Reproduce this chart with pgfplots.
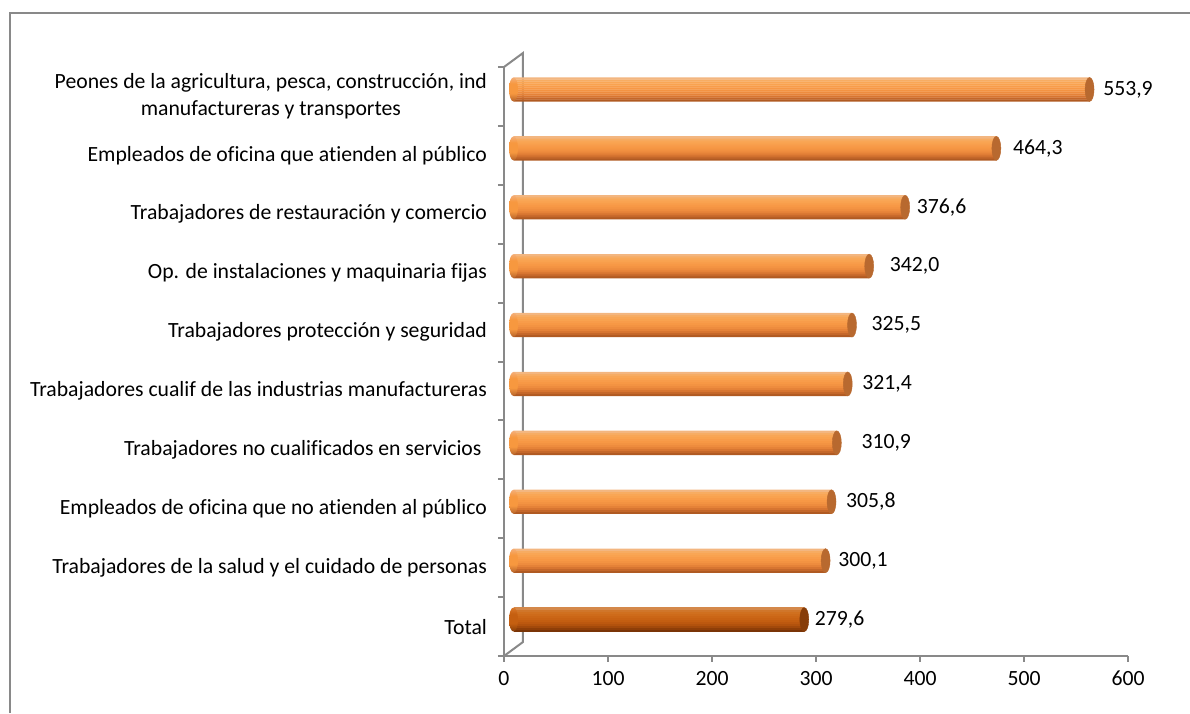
\documentclass[border=0pt]{standalone}
\usepackage{pgfplots}
\pgfplotsset{compat=1.18}
\usepackage{pgfplotstable}
\usepackage{fontspec}
\setmainfont{Carlito}[Ligatures={NoCommon}]

\definecolor{axgray}{HTML}{898989}
\definecolor{barTop}{HTML}{F4AE78}
\definecolor{barMid}{HTML}{F7983F}
\definecolor{barBot}{HTML}{B4622A}
\definecolor{capC}{HTML}{B8692F}
\definecolor{totTop}{HTML}{D9782A}
\definecolor{totMid}{HTML}{C55F10}
\definecolor{totBot}{HTML}{843D08}
\definecolor{totCap}{HTML}{873D09}

% stripes, 0 = bottom edge, 11 = top edge
\definecolor{orS0}{HTML}{B05A22}
\definecolor{orS1}{HTML}{C4672A}
\definecolor{orS2}{HTML}{D77531}
\definecolor{orS3}{HTML}{E58238}
\definecolor{orS4}{HTML}{EE8C3E}
\definecolor{orS5}{HTML}{F39342}
\definecolor{orS6}{HTML}{F79845}
\definecolor{orS7}{HTML}{F89C4A}
\definecolor{orS8}{HTML}{F9A24F}
\definecolor{orS9}{HTML}{F9A655}
\definecolor{orS10}{HTML}{F7AC62}
\definecolor{orS11}{HTML}{F3B680}
\definecolor{toS0}{HTML}{7A3406}
\definecolor{toS1}{HTML}{8E3E08}
\definecolor{toS2}{HTML}{A2490B}
\definecolor{toS3}{HTML}{B2520D}
\definecolor{toS4}{HTML}{BC580F}
\definecolor{toS5}{HTML}{C35E11}
\definecolor{toS6}{HTML}{C86213}
\definecolor{toS7}{HTML}{CB6616}
\definecolor{toS8}{HTML}{CE6B1A}
\definecolor{toS9}{HTML}{D0701F}
\definecolor{toS10}{HTML}{D0762A}
\definecolor{toS11}{HTML}{D4884A}

\pgfdeclareverticalshading{orshade}{100bp}{color(0bp)=(barBot); color(25bp)=(barBot); color(42bp)=(barMid); color(62bp)=(barMid); color(75bp)=(barTop); color(100bp)=(barTop)}
\pgfdeclareverticalshading{totshade}{100bp}{color(0bp)=(totBot); color(25bp)=(totBot); color(42bp)=(totMid); color(62bp)=(totMid); color(75bp)=(totTop); color(100bp)=(totTop)}

\pgfdeclareplotmark{lcapor}{\pgfpathellipse{\pgfpointorigin}{\pgfqpoint{2.25pt}{0pt}}{\pgfqpoint{0pt}{6pt}}\pgfshadepath{orshade}{0}\pgfusepath{discard}}
\pgfdeclareplotmark{lcaptot}{\pgfpathellipse{\pgfpointorigin}{\pgfqpoint{2.25pt}{0pt}}{\pgfqpoint{0pt}{6pt}}\pgfshadepath{totshade}{0}\pgfusepath{discard}}

\pgfplotstableread{
y v gap
1 300.1 8
2 305.8 10
3 310.9 20
4 321.4 10
5 325.5 15
6 342.0 16
7 376.6 7
8 464.3 12
9 553.9 9
}\occtab
\pgfplotstableread{
y v gap
0 279.6 6
}\totaltab

\newcommand{\lblfont}{\fontsize{10.85}{13.5}\selectfont}

\begin{document}
\begin{tikzpicture}
\path[use as bounding box] (0,0) rectangle (595pt,356.5pt);
\draw[axgray, line width=1pt] (5pt,0) -- (5pt,350pt) -- (600pt,350pt);

% front axis: frame, ticks, labels
\begin{axis}[
  at={(252pt,28.5pt)}, anchor=south west,
  x=0.52pt, y=29.45pt,
  xmin=0, xmax=600, ymin=-0.5, ymax=9.5,
  axis x line*=bottom, axis y line*=left,
  axis line style={axgray, line width=1pt, -},
  clip=false,
  xtick={0,100,...,600},
  tick align=outside,
  major tick length=3pt,
  xtick style={axgray, line width=1pt},
  ytick={0,...,9},
  ytick style={draw=none},
  extra y ticks={-0.5,0.5,1.5,2.5,3.5,4.5,5.5,6.5,7.5,8.5,9.5},
  extra y tick labels={},
  extra y tick style={ytick style={draw=axgray, line width=1pt}},
  yticklabels={Total,
    Trabajadores de la salud y el cuidado de personas,
    Empleados de oficina que no atienden al público,
    Trabajadores no cualificados en servicios\kern0.25em,
    Trabajadores cualif de las industrias manufactureras,
    Trabajadores protección y seguridad,
    Op. de instalaciones y maquinaria fijas,
    Trabajadores de restauración y comercio,
    Empleados de oficina que atienden al público,
    {Peones de la agricultura, pesca, construcción, ind\\manufactureras y transportes}},
  yticklabel style={font=\lblfont, align=center, anchor=east, xshift=-2pt},
  xticklabel style={font=\lblfont, yshift=-1pt},
  /pgf/number format/assume math mode=true,
]
\draw[axgray, line width=1pt] (axis cs:0,-0.5) -- ([shift={(9.5pt,7pt)}]axis cs:0,-0.5) -- ([shift={(9.5pt,7pt)}]axis cs:0,9.5) -- (axis cs:0,9.5);
\end{axis}

% bars (mid-depth plane)
\begin{axis}[
  at={(256.75pt,32pt)}, anchor=south west,
  x=0.52pt, y=29.45pt,
  xmin=0, xmax=600, ymin=-0.5, ymax=9.5,
  hide axis, clip=false,
  /pgf/number format/assume math mode=true,
]
\addplot[only marks, mark=lcapor] table[x expr=0, y=y]{\occtab};
\pgfplotsinvokeforeach{0,...,11}{
  \addplot[xbar, bar width=1.15pt, bar shift={(#1-5.5)*1pt}, draw=none, fill=orS#1] table[x=v, y=y]{\occtab};
}
\addplot[only marks, mark=*, mark size=6pt,
  mark options={xscale=0.375, fill=capC, draw=capC, line width=0.2pt},
  point meta=explicit,
  visualization depends on={\thisrow{gap} \as \gap},
  nodes near coords={\pgfmathprintnumber[fixed, fixed zerofill, precision=1, use comma, assume math mode=true]{\pgfplotspointmeta}},
  every node near coord/.append style={anchor=west, inner sep=0pt, font=\lblfont, text=black, xshift={2.25pt+\gap*0.5pt}},
] table[x=v, y=y, meta=v]{\occtab};

\addplot[only marks, mark=lcaptot] table[x expr=0, y=y]{\totaltab};
\pgfplotsinvokeforeach{0,...,11}{
  \addplot[xbar, bar width=1.15pt, bar shift={(#1-5.5)*1pt}, draw=none, fill=toS#1] table[x=v, y=y]{\totaltab};
}
\addplot[only marks, mark=*, mark size=6pt,
  mark options={xscale=0.375, fill=totCap, draw=totCap, line width=0.2pt},
  point meta=explicit,
  visualization depends on={\thisrow{gap} \as \gap},
  nodes near coords={\pgfmathprintnumber[fixed, fixed zerofill, precision=1, use comma, assume math mode=true]{\pgfplotspointmeta}},
  every node near coord/.append style={anchor=west, inner sep=0pt, font=\lblfont, text=black, xshift={2.25pt+\gap*0.5pt}},
] table[x=v, y=y, meta=v]{\totaltab};
\end{axis}
\end{tikzpicture}
\end{document}
